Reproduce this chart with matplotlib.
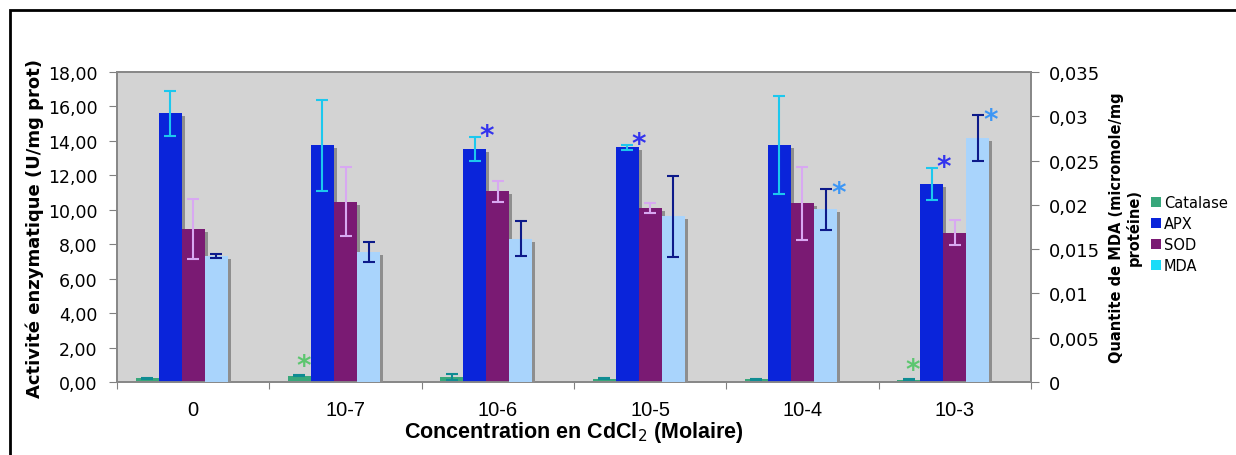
import numpy as np
import matplotlib.pyplot as plt
from matplotlib.patches import Patch, Rectangle
from matplotlib.transforms import ScaledTranslation
from matplotlib.ticker import FixedLocator, FuncFormatter

concentrations = ['0', '10-7', '10-6', '10-5', '10-4', '10-3']

catalase = [0.21, 0.37, 0.27, 0.20, 0.16, 0.13]
catalase_err = [0.04, 0.04, 0.18, 0.04, 0.04, 0.03]
apx = [15.6, 13.75, 13.55, 13.63, 13.76, 11.5]
apx_err = [1.3, 2.65, 0.7, 0.14, 2.82, 0.95]
sod = [8.9, 10.47, 11.07, 10.12, 10.37, 8.67]
sod_err = [1.73, 2.0, 0.63, 0.28, 2.1, 0.72]
# MDA sur l'axe secondaire (micromole/mg protéine)
mda = [0.0142, 0.0147, 0.0162, 0.0187, 0.0195, 0.0275]
mda_err = [0.0002, 0.0011, 0.0020, 0.0046, 0.0023, 0.0026]

# étoiles de significativité : (série, index concentration)
signif = [('Catalase', 1), ('APX', 2), ('APX', 3), ('MDA', 4),
          ('Catalase', 5), ('APX', 5), ('MDA', 5)]

couleurs = {'Catalase': '#38a77b', 'APX': '#0a24da', 'SOD': '#7a1a73', 'MDA': '#a9d4fc'}
couleurs_err = {'Catalase': '#0f8c92', 'APX': '#1cc8ee', 'SOD': '#d8a8f2', 'MDA': '#0d1a8a'}
couleurs_etoile = {'Catalase': '#5cc66f', 'APX': '#3333ee', 'MDA': '#3c96f5'}
# décalage de l'étoile par rapport au haut de la barre d'erreur (pixels)
decal_etoile = {'Catalase': (4, 14), 'APX': (12, 6), 'MDA': (13, 1)}

fig = plt.figure(figsize=(12.36, 4.56), dpi=100)
ax = fig.add_axes([117 / 1236, 1 - 383 / 456, 914 / 1236, 310 / 456])
ax2 = ax.twinx()
ax.set_facecolor('#d3d3d3')

w = 0.151
x = np.arange(len(concentrations))
ombre = ScaledTranslation(3 / 100, -3 / 100, fig.dpi_scale_trans)

series = [('Catalase', catalase, catalase_err, ax),
          ('APX', apx, apx_err, ax),
          ('SOD', sod, sod_err, ax),
          ('MDA', mda, mda_err, ax2)]

positions = {}
for k, (nom, vals, errs, a) in enumerate(series):
    pos = x + (k - 2) * w
    positions[nom] = (pos, vals, errs, a)
    a.bar(pos, vals, w, color='#8e8e8e', transform=a.transData + ombre, zorder=1 + 2 * k)
    a.bar(pos, vals, w, color=couleurs[nom], zorder=2 + 2 * k)
    a.errorbar(pos, vals, yerr=errs, fmt='none', ecolor=couleurs_err[nom],
               elinewidth=1.5, capsize=4, capthick=1.5, zorder=10)

for nom, i in signif:
    pos, vals, errs, a = positions[nom]
    dx, dy = decal_etoile[nom]
    a.annotate('*', xy=(pos[i], vals[i] + errs[i]), xytext=(dx * 0.72, dy * 0.72 - 9.5),
               textcoords='offset points', ha='center', va='baseline',
               fontsize=20, fontweight='bold', color=couleurs_etoile[nom], zorder=12)

ax.set_xlim(-0.5, len(concentrations) - 0.5)
ax.set_ylim(0, 18)
ax.set_yticks(np.arange(0, 18.1, 2))
ax.yaxis.set_major_formatter(FuncFormatter(lambda v, p: f'{v:.2f}'.replace('.', ',')))
ax2.set_ylim(0, 0.035)
ax2.set_yticks(np.arange(0, 0.0351, 0.005))
ax2.yaxis.set_major_formatter(FuncFormatter(lambda v, p: f'{round(v, 3):g}'.replace('.', ',')))

ax.xaxis.set_major_locator(FixedLocator(np.arange(-0.5, len(concentrations))))
ax.xaxis.set_minor_locator(FixedLocator(x))
ax.set_xticklabels([], minor=False)
ax.set_xticklabels(concentrations, minor=True, fontsize=14.5, family='Liberation Sans')
ax.tick_params(axis='x', which='major', length=5, color='#808080')
ax.tick_params(axis='x', which='minor', length=0, pad=13)
ax.tick_params(axis='y', length=6, color='#808080', pad=8, labelsize=12.5)
ax2.tick_params(axis='y', length=6, color='#808080', pad=7, labelsize=13)

for a in (ax, ax2):
    for s in a.spines.values():
        s.set_color('#888888')
        s.set_linewidth(1.3)

ax.set_xlabel('Concentration en CdCl$_2$ (Molaire)', fontsize=15.5, fontweight='bold',
              family='Liberation Sans', labelpad=0)
ax.set_ylabel('Activité enzymatique (U/mg prot)', fontsize=13, fontweight='bold', labelpad=3)
ax2.set_ylabel('Quantite de MDA (micromole/mg\nprotéine)', fontsize=10.5, fontweight='bold',
               labelpad=6, linespacing=1.15)

handles = [Patch(facecolor=c, edgecolor='none', label=n) for n, c in
           [('Catalase', '#38a77b'), ('APX', '#0a24da'), ('SOD', '#7a1a73'), ('MDA', '#1adcf8')]]
fig.legend(handles=handles, loc='center left', bbox_to_anchor=(1145 / 1236, 1 - 235 / 456),
           frameon=False, fontsize=10.5, handlelength=0.7, handleheight=0.7,
           handletextpad=0.2, labelspacing=0.4, borderaxespad=0)

fig.add_artist(Rectangle((10 / 1236, -0.1), 1.2, 1.1 - 11 / 456, transform=fig.transFigure,
                         fill=False, edgecolor='black', linewidth=2, clip_on=False))

fig.savefig('out.png', dpi=100)
